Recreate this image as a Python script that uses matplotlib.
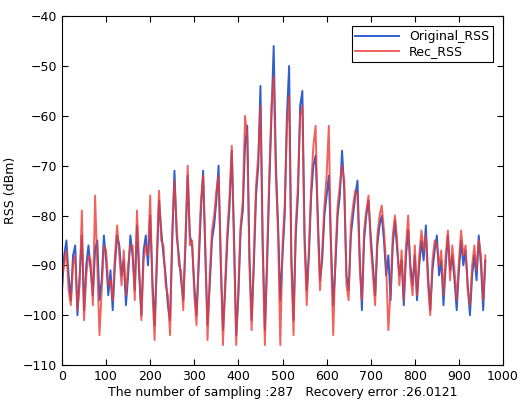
import numpy as np
import matplotlib
matplotlib.use("Agg")
import matplotlib.pyplot as plt

# RSS, one value every 5 samples (0..960)
step = 5
original_rss = [
    -95, -88, -85, -92, -97, -88, -86, -100, -92, -84, -99, -90, -86, -91, -96, -87, -85, -97, -93, -84,
    -89, -96, -91, -99, -90, -84, -86, -92, -89, -98, -92, -84, -88, -95, -82, -92, -100, -87, -84, -90,
    -80, -93, -102, -90, -77, -83, -88, -92, -98, -101, -85, -71, -84, -88, -93, -97, -86, -72, -84, -86,
    -94, -100, -90, -79, -71, -88, -102, -94, -85, -82, -77, -70, -90, -103, -95, -85, -78, -67, -84, -104,
    -96, -83, -79, -66, -62, -88, -101, -90, -76, -70, -54, -85, -103, -90, -74, -60, -46, -70, -82, -97,
    -88, -80, -60, -50, -88, -101, -84, -76, -58, -55, -84, -95, -88, -76, -70, -68, -80, -93, -89, -80,
    -76, -72, -86, -98, -90, -80, -76, -67, -75, -92, -95, -84, -80, -76, -73, -88, -99, -85, -80, -77,
    -84, -90, -96, -86, -82, -80, -85, -92, -88, -97, -86, -81, -87, -92, -89, -98, -88, -83, -90, -94,
    -88, -97, -90, -85, -89, -82, -92, -99, -91, -87, -84, -92, -89, -98, -90, -84, -91, -88, -93, -99,
    -91, -85, -90, -87, -94, -100, -92, -88, -93, -84, -90, -99, -89,
]
rec_rss = [
    -92, -90, -87, -95, -98, -90, -88, -99, -94, -79, -101, -92, -88, -89, -98, -76, -90, -104, -95, -86,
    -87, -94, -93, -97, -88, -82, -88, -94, -87, -96, -90, -86, -86, -97, -79, -90, -101, -89, -86, -88,
    -76, -95, -105, -88, -75, -85, -86, -94, -96, -104, -83, -73, -82, -90, -91, -99, -84, -70, -86, -85,
    -96, -102, -88, -77, -72, -86, -105, -92, -83, -80, -75, -72, -88, -106, -93, -83, -76, -66, -86, -106,
    -94, -82, -77, -60, -64, -90, -103, -88, -74, -68, -58, -87, -106, -88, -72, -58, -52, -72, -84, -106,
    -86, -78, -62, -56, -90, -104, -82, -74, -60, -58, -86, -98, -86, -74, -66, -62, -82, -95, -87, -78,
    -72, -62, -88, -104, -88, -78, -74, -70, -73, -94, -97, -82, -78, -75, -76, -90, -97, -83, -79, -76,
    -86, -92, -98, -84, -80, -78, -83, -90, -103, -95, -84, -80, -85, -94, -87, -97, -86, -80, -92, -96,
    -86, -96, -88, -83, -87, -84, -94, -100, -89, -85, -86, -90, -87, -96, -88, -83, -93, -86, -91, -97,
    -89, -83, -88, -86, -95, -98, -90, -86, -91, -85, -88, -97, -88,
]
xlabel_text = "The number of sampling :287   Recovery error :26.0121"

x1 = np.arange(len(original_rss)) * step
x2 = np.arange(len(rec_rss)) * step

fig = plt.figure(figsize=(5.21, 4.04), dpi=100)
ax = fig.add_axes([0.119, 0.0965, 0.8465, 0.8635])

ax.plot(x1, original_rss, color="#2f5fcc", lw=1.4, label="Original_RSS")
ax.plot(x2, rec_rss, color="#ee3b35", lw=1.4, alpha=0.8, label="Rec_RSS")

ax.set_xlim(0, 1000)
ax.set_ylim(-110, -40)
ax.set_xticks(range(0, 1001, 100))
ax.set_yticks(range(-110, -39, 10))
ax.tick_params(direction="in", top=True, right=True, labelsize=9, length=4)
ax.set_xlabel(xlabel_text, fontsize=9, labelpad=2)
ax.set_ylabel("RSS (dBm)", fontsize=9)

leg = ax.legend(loc="upper right", fontsize=9, fancybox=False, framealpha=1,
                borderaxespad=0.8, handlelength=3.5, borderpad=0.3, labelspacing=0.2)
leg.get_frame().set_edgecolor("black")
leg.get_frame().set_linewidth(0.8)

fig.savefig("out.png", dpi=100)
